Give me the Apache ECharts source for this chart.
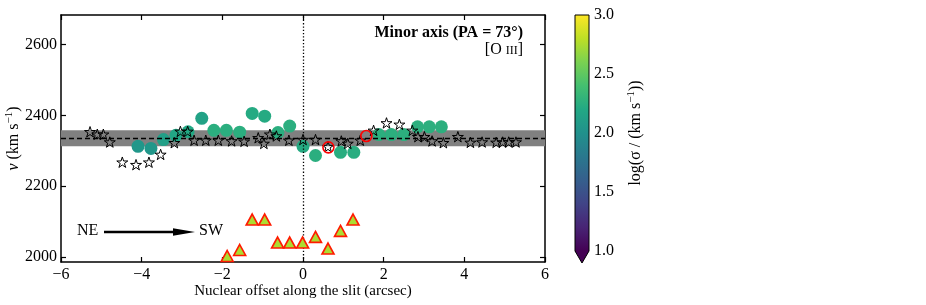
<!DOCTYPE html>
<html><head><meta charset="utf-8">
<script src="https://cdn.jsdelivr.net/npm/echarts@6/dist/echarts.min.js"></script>
<style>html,body{margin:0;padding:0;background:#fff}#c{width:926px;height:305px}</style>
</head><body><div id="c"></div>
<script>
// ---- data ----
const starX = [-5.28,-5.10,-4.95,-4.79,-4.48,-4.14,-3.82,-3.53,-3.19,-3.04,-2.86,-2.70,-2.41,-2.10,-1.77,-1.46,-1.11,-0.97,-0.82,-0.66,-0.35,0.00,0.31,0.62,0.95,1.11,1.42,1.75,2.07,2.39,2.71,2.85,3.01,3.20,3.48,3.84,4.15,4.44,4.79,4.95,5.10,5.28];
const starY = [2354,2347,2347,2325,2268,2261,2268,2290,2323,2355,2355,2330,2330,2330,2328,2327,2337,2321,2347,2342,2330,2332,2332,2312,2328,2321,2330,2358,2379,2375,2358,2340,2340,2328,2323,2340,2324,2325,2324,2325,2325,2325];
const circleX = [-4.09,-3.77,-3.46,-3.15,-2.85,-2.51,-2.21,-1.90,-1.57,-1.26,-0.95,-0.62,-0.33,0.00,0.31,0.93,1.26,1.88,2.19,2.50,2.84,3.13,3.43];
const circleY = [2313,2307,2332,2344,2354,2392,2358,2358,2353,2406,2398,2352,2370,2313,2287,2296,2296,2346,2346,2346,2368,2368,2368];
const circleLogSigma = [2.05,2.05,2.12,2.18,2.20,2.15,2.25,2.25,2.25,2.22,2.22,2.25,2.25,2.22,2.25,2.24,2.24,2.26,2.26,2.26,2.26,2.26,2.26];
const triX = [-1.88,-1.57,-1.26,-0.95,-0.63,-0.33,-0.01,0.31,0.62,0.93,1.24];
const triY = [2003,2020,2106,2106,2041,2041,2041,2057,2024,2074,2106];
const triLogSigma = [2.75,2.75,2.75,2.75,2.75,2.75,2.75,2.75,2.75,2.75,2.75];
const ringX = [0.63,1.57];
const ringY = [2310,2342];
const vsys = 2336, bandLow = 2313, bandHigh = 2358;
const xTicks = [-6,-4,-2,0,2,4,6];
const yTicks = [2000,2200,2400,2600];
const cbMin = 1.0, cbMax = 3.0;
const viridis = ['#440154','#482475','#414487','#355f8d','#2a788e','#21918c','#22a884','#44bf70','#7ad151','#bddf26','#fde725'];

// ---- helpers ----
const FONT = 'Liberation Serif';
function starPath(){
  const p=[];
  for(let i=0;i<10;i++){const r=i%2?0.382:1;const a=-Math.PI/2+i*Math.PI/5;p.push((r*Math.cos(a)).toFixed(3)+' '+(r*Math.sin(a)).toFixed(3));}
  return 'path://M'+p.join(' L')+' Z';
}
const zip2=(a,b)=>a.map((v,i)=>[v,b[i]]);
const zip3=(a,b,c)=>a.map((v,i)=>[v,b[i],c[i]]);
const minus = v => String(v).replace('-','\u2212');

const chart = echarts.init(document.getElementById('c'));
const axisLineStyle = {color:'#000', width:1.5};
const gradStops = viridis.map((c,i)=>({offset:i/(viridis.length-1), color:c}));

chart.setOption({
  animation:false,
  backgroundColor:'#fff',
  grid:[
    {left:61, top:15, width:484, height:247, containLabel:false, outerBoundsMode:'none'},
    {left:575, top:15, width:14, height:236, containLabel:false, outerBoundsMode:'none'}
  ],
  xAxis:[
    {gridIndex:0, type:'value', min:-6, max:6, interval:2, position:'bottom',
     axisLine:{show:true, onZero:false, lineStyle:axisLineStyle},
     axisTick:{inside:true, length:5, lineStyle:{color:'#000', width:1.2}},
     axisLabel:{color:'#000', fontFamily:FONT, fontSize:16, margin:5, formatter:minus},
     splitLine:{show:false},
     name:'Nuclear offset along the slit (arcsec)', nameLocation:'middle', nameGap:22, nameMoveOverlap:false,
     nameTextStyle:{color:'#000', fontFamily:FONT, fontSize:15}},
    {gridIndex:0, type:'value', min:-6, max:6, interval:2, position:'top',
     axisLine:{show:true, onZero:false, lineStyle:axisLineStyle},
     axisTick:{inside:true, length:5, lineStyle:{color:'#000', width:1.2}},
     axisLabel:{show:false}, splitLine:{show:false}},
    {gridIndex:1, type:'value', min:0, max:1, show:false}
  ],
  yAxis:[
    {gridIndex:0, type:'value', min:1986, max:2684, position:'left',
     axisLine:{show:true, onZero:false, lineStyle:axisLineStyle},
     axisTick:{inside:true, length:5, customValues:yTicks, lineStyle:{color:'#000', width:1.2}},
     axisLabel:{color:'#000', fontFamily:FONT, fontSize:16, margin:4, customValues:yTicks, formatter:v=>String(v)},
     splitLine:{show:false},
     name:'{i|v} {n|(km s}{sup|\u22121}{n|)}', nameLocation:'middle', nameGap:37, nameRotate:90, nameMoveOverlap:false,
     nameTextStyle:{color:'#000', fontFamily:FONT, fontSize:16, lineHeight:20,
       rich:{i:{fontStyle:'italic', fontFamily:FONT, fontSize:16, color:'#000', lineHeight:20},
             n:{fontFamily:FONT, fontSize:16, color:'#000', lineHeight:20},
             sup:{fontSize:11, fontFamily:FONT, color:'#000', verticalAlign:'top', lineHeight:11}}}},
    {gridIndex:0, type:'value', min:1986, max:2684, position:'right',
     axisLine:{show:true, onZero:false, lineStyle:axisLineStyle},
     axisTick:{inside:true, length:5, customValues:yTicks, lineStyle:{color:'#000', width:1.2}},
     axisLabel:{show:false}, splitLine:{show:false}},
    {gridIndex:1, type:'value', min:cbMin, max:cbMax, interval:0.5, position:'right',
     axisLine:{show:false},
     axisTick:{show:true, inside:false, length:4, lineStyle:{color:'#000', width:1}},
     axisLabel:{color:'#000', fontFamily:FONT, fontSize:16, margin:5, formatter:v=>v.toFixed(1)},
     splitLine:{show:false},
     name:'{n|log(\u03c3 / (km s}{sup|\u22121}{n|))}', nameLocation:'middle', nameGap:37, nameRotate:90, nameMoveOverlap:false,
     nameTextStyle:{color:'#000', fontFamily:FONT, fontSize:16, lineHeight:20,
       rich:{n:{fontFamily:FONT, fontSize:16, color:'#000', lineHeight:20},
             sup:{fontSize:11, fontFamily:FONT, color:'#000', verticalAlign:'top', lineHeight:11}}}}
  ],
  visualMap:[{type:'continuous', show:false, min:cbMin, max:cbMax, dimension:2, seriesIndex:[2,4],
    inRange:{color:viridis}}],
  series:[
    {type:'scatter', xAxisIndex:0, yAxisIndex:0, data:[], z:1, silent:true,
     markArea:{silent:true, itemStyle:{color:'#808080', opacity:1}, data:[[{yAxis:bandLow},{yAxis:bandHigh}]]}},
    {type:'scatter', xAxisIndex:0, yAxisIndex:0, data:[], z:2, silent:true,
     markLine:{silent:true, symbol:'none', label:{show:false},
       data:[
         {yAxis:vsys, lineStyle:{color:'#000', width:1.3, type:[5,3]}},
         {xAxis:0, lineStyle:{color:'#000', width:1.3, type:[1.3,2]}}
       ]}},
    {type:'scatter', xAxisIndex:0, yAxisIndex:0, z:3, symbol:'circle', symbolSize:13,
     data:zip3(circleX, circleY, circleLogSigma), itemStyle:{opacity:1}},
    {type:'scatter', xAxisIndex:0, yAxisIndex:0, z:4, symbol:starPath(), symbolKeepAspect:true, symbolSize:11,
     data:zip2(starX, starY), itemStyle:{color:'rgba(0,0,0,0)', borderColor:'#000', borderWidth:1.0, opacity:1}},
    {type:'scatter', xAxisIndex:0, yAxisIndex:0, z:5, symbol:'triangle', symbolSize:[12,11],
     data:zip3(triX, triY, triLogSigma), itemStyle:{borderColor:'#ff1a00', borderWidth:1.6, opacity:1}},
    {type:'scatter', xAxisIndex:0, yAxisIndex:0, z:6, symbol:'circle', symbolSize:11,
     data:zip2(ringX, ringY), itemStyle:{color:'rgba(0,0,0,0)', borderColor:'#ff0000', borderWidth:1.6, opacity:1}},
    {type:'custom', xAxisIndex:2, yAxisIndex:2, z:3, silent:true, clip:false,
     data:[[0.5, cbMax]],
     renderItem:function(params, api){
       const top = api.coord([0, cbMax]), bot = api.coord([0, cbMin]);
       const cs = params.coordSys;
       const x0 = cs.x, x1 = cs.x + cs.width, yT = top[1], yB = bot[1], tip = yB + 12;
       return {type:'group', children:[
         {type:'rect', shape:{x:x0, y:yT, width:x1-x0, height:yB-yT},
          style:{fill:new echarts.graphic.LinearGradient(0,1,0,0,gradStops)}},
         {type:'polygon', shape:{points:[[x0,yB],[x1,yB],[(x0+x1)/2,tip]]}, style:{fill:viridis[0]}},
         {type:'polygon', shape:{points:[[x0,yT],[x1,yT],[x1,yB],[(x0+x1)/2,tip],[x0,yB]]},
          style:{fill:'none', stroke:'#000', lineWidth:1}}
       ]};
     }}
  ],
  graphic:[
    {type:'text', right:926-523, top:25, style:{text:'Minor axis (PA = 73\u00b0)', fill:'#000',
      font:'bold 16px "Liberation Serif"', textAlign:'right'}},
    {type:'text', right:926-523, top:42, style:{text:'[O {s|III}]', fill:'#000',
      font:'16px "Liberation Serif"', rich:{s:{fontSize:12, fontFamily:FONT, fill:'#000', padding:[2,0,0,0]}}}},
    {type:'text', left:77, top:223, style:{text:'NE', fill:'#000', font:'16px "Liberation Serif"'}},
    {type:'text', left:199, top:223, style:{text:'SW', fill:'#000', font:'16px "Liberation Serif"'}},
    {type:'line', shape:{x1:104, y1:232, x2:176, y2:232}, style:{stroke:'#000', lineWidth:2.5}},
    {type:'polygon', shape:{points:[[173,228.3],[195,232],[173,235.7]]}, style:{fill:'#000'}}
  ]
});
</script></body></html>
